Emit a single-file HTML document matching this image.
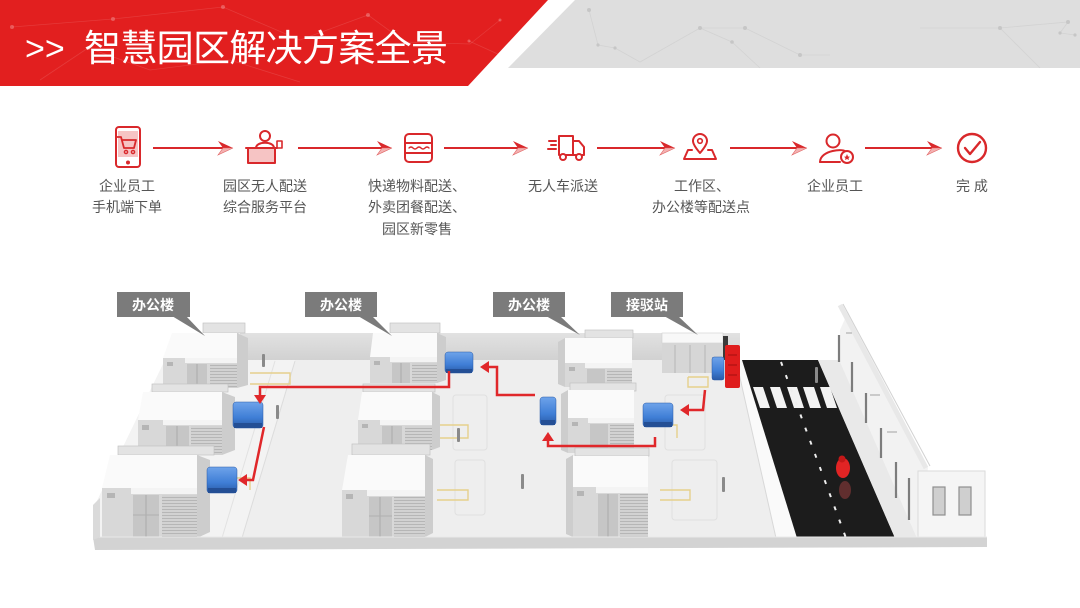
<!DOCTYPE html>
<html><head><meta charset="utf-8">
<style>
html,body{margin:0;padding:0;background:#fff;}
body{width:1080px;height:608px;overflow:hidden;}
svg{display:block;}
text{font-family:"Liberation Sans","Noto Sans CJK SC",sans-serif;}
</style></head>
<body>
<svg width="1080" height="608" viewBox="0 0 1080 608" xmlns="http://www.w3.org/2000/svg">
<defs>
  <pattern id="lv" width="4" height="3" patternUnits="userSpaceOnUse"><rect width="4" height="3" fill="#d2d2d2"/><rect y="2" width="4" height="1" fill="#b6b6b6"/></pattern>
  <linearGradient id="wallg" x1="0" y1="0" x2="0" y2="1"><stop offset="0" stop-color="#e2e2e2"/><stop offset="1" stop-color="#d0d0d0"/></linearGradient>
  <linearGradient id="blu" x1="0" y1="0" x2="0" y2="1"><stop offset="0" stop-color="#6ea3ea"/><stop offset="0.6" stop-color="#3f7ed6"/><stop offset="1" stop-color="#2a5aa6"/></linearGradient>
</defs>

<!-- HEADER -->
<polygon points="0,0 548,0 468,86 0,86" fill="#e21f1f"/>
<polygon points="575,0 1080,0 1080,68 508,68" fill="#dedede"/>
<g stroke="rgba(255,255,255,0.12)" stroke-width="0.8" fill="none">
  <polyline points="12,27 113,19 223,7 300,40 368,15 405,42 470,44 500,20"/>
  <polyline points="40,80 88,48 150,70 230,60 300,82"/>
  <polyline points="469,41 500,55 540,10"/>
</g>
<g fill="rgba(255,255,255,0.25)">
  <circle cx="12" cy="27" r="2"/><circle cx="113" cy="19" r="2"/><circle cx="223" cy="7" r="2"/><circle cx="368" cy="15" r="2"/><circle cx="88" cy="48" r="2"/><circle cx="469" cy="41" r="1.5"/><circle cx="500" cy="20" r="1.5"/>
</g>
<g stroke="rgba(150,150,150,0.15)" stroke-width="0.8" fill="none">
  <polyline points="589,10 598,45 615,48 640,62 700,28 745,28 800,55 830,55"/>
  <polyline points="700,28 732,42 760,68"/>
  <polyline points="920,28 1000,28 1068,22 1060,33 1075,35"/>
  <polyline points="1000,28 1040,68"/>
</g>
<g fill="#c6c6c6">
  <circle cx="589" cy="10" r="2"/><circle cx="598" cy="45" r="1.6"/><circle cx="615" cy="48" r="1.6"/><circle cx="700" cy="28" r="2"/><circle cx="745" cy="28" r="2"/><circle cx="732" cy="42" r="1.8"/><circle cx="800" cy="55" r="2"/><circle cx="1000" cy="28" r="2"/><circle cx="1068" cy="22" r="2"/><circle cx="1060" cy="33" r="1.6"/><circle cx="1075" cy="35" r="1.6"/>
</g>
<text x="25" y="60" font-size="34" fill="#fff">&gt;&gt;</text>
<text x="84" y="61" font-size="37" fill="#fff" textLength="364" lengthAdjust="spacing">智慧园区解决方案全景</text>

<!-- FLOW ARROWS -->
<g>
  <g stroke="#d9282b" stroke-width="2" fill="none">
    <line x1="153" y1="148" x2="224" y2="148"/>
    <line x1="298" y1="148" x2="383" y2="148"/>
    <line x1="444" y1="148" x2="519" y2="148"/>
    <line x1="597" y1="148" x2="666" y2="148"/>
    <line x1="730" y1="148" x2="798" y2="148"/>
    <line x1="865" y1="148" x2="933" y2="148"/>
  </g>
  <g>
    <polygon points="233,148 218,141 223,148" fill="#d9282b"/><polygon points="233,148 223,148 218,155" fill="#f3b0b0" stroke="#e06060" stroke-width="0.6"/>
    <polygon points="392,148 377,141 382,148" fill="#d9282b"/><polygon points="392,148 382,148 377,155" fill="#f3b0b0" stroke="#e06060" stroke-width="0.6"/>
    <polygon points="528,148 513,141 518,148" fill="#d9282b"/><polygon points="528,148 518,148 513,155" fill="#f3b0b0" stroke="#e06060" stroke-width="0.6"/>
    <polygon points="675,148 660,141 665,148" fill="#d9282b"/><polygon points="675,148 665,148 660,155" fill="#f3b0b0" stroke="#e06060" stroke-width="0.6"/>
    <polygon points="807,148 792,141 797,148" fill="#d9282b"/><polygon points="807,148 797,148 792,155" fill="#f3b0b0" stroke="#e06060" stroke-width="0.6"/>
    <polygon points="942,148 927,141 932,148" fill="#d9282b"/><polygon points="942,148 932,148 927,155" fill="#f3b0b0" stroke="#e06060" stroke-width="0.6"/>
  </g>
</g>

<!-- ICONS -->
<g stroke="#d9282b" stroke-width="2" fill="none" stroke-linejoin="round" stroke-linecap="round">
  <rect x="116" y="127" width="24" height="40" rx="3"/>
  <rect x="118" y="131" width="20" height="26" fill="#f6c4c4" stroke="none"/>
  <path d="M117,137 H121 L124,148 H134 L136,140 H122" stroke-width="1.8"/>
  <circle cx="126" cy="152" r="1.6" stroke-width="1.4"/><circle cx="133" cy="152" r="1.6" stroke-width="1.4"/>
  <circle cx="128" cy="162.5" r="1" fill="#d9282b"/>
  <circle cx="265" cy="136" r="5"/>
  <path d="M256,148 C256,141 274,141 274,148"/>
  <rect x="248" y="148" width="27" height="15" fill="#f6c4c4"/>
  <line x1="246" y1="148" x2="277" y2="148"/>
  <rect x="277" y="141" width="5" height="7" stroke-width="1.6"/>
  <rect x="405" y="134" width="27" height="28" rx="4"/>
  <line x1="405" y1="143" x2="432" y2="143"/>
  <line x1="405" y1="153" x2="432" y2="153"/>
  <path d="M409,148 q2,-2 4,0 t4,0 t4,0 t4,0 t4,0" stroke-width="1.4"/>
  <path d="M559,136 H573 V155 H559 Z"/>
  <path d="M573,141 H579 L584,147 V155 H573"/>
  <circle cx="563" cy="157" r="3" fill="#fff"/><circle cx="579" cy="157" r="3" fill="#fff"/>
  <line x1="549" y1="141" x2="556" y2="141"/><line x1="551" y1="145" x2="556" y2="145"/><line x1="548" y1="149" x2="556" y2="149"/>
  <path d="M700,153 C694,146 693,143 693,141 A7,7 0 0 1 707,141 C707,143 706,146 700,153 Z"/>
  <circle cx="700" cy="141" r="2.3" stroke-width="1.6"/>
  <path d="M692,150 H688 L684,159 H716 L712,150 H708"/>
  <circle cx="833" cy="141" r="6.5"/>
  <path d="M820,162 C820,150 845,148 846,152"/>
  <line x1="820" y1="162" x2="840" y2="162"/>
  <circle cx="847" cy="157" r="6" fill="#fff"/>
  <polygon points="847,154 848,156.5 850,156.8 848.5,158 849,160 847,159 845,160 845.5,158 844,156.8 846,156.5" fill="#d9282b" stroke="none"/>
  <circle cx="972" cy="148" r="14" stroke-width="2.4"/>
  <path d="M965,148 L970,154 L980,142" stroke-width="2.4"/>
</g>

<!-- LABELS -->
<g font-size="14" fill="#555" text-anchor="middle">
  <text x="127" y="191">企业员工</text>
  <text x="127" y="212">手机端下单</text>
  <text x="265" y="191">园区无人配送</text>
  <text x="265" y="212">综合服务平台</text>
  <text x="417" y="191">快递物料配送、</text>
  <text x="417" y="212">外卖团餐配送、</text>
  <text x="417" y="234">园区新零售</text>
  <text x="563" y="191">无人车派送</text>
  <text x="702" y="191">工作区、</text>
  <text x="701" y="212">办公楼等配送点</text>
  <text x="835" y="191">企业员工</text>
  <text x="972" y="191">完 成</text>
</g>

<!-- SCENE -->
<rect x="240" y="333" width="500" height="29" fill="url(#wallg)"/>
<polygon points="165,360 738,360 776,538 95,538 95,505" fill="#eeeeee"/>
<polygon points="165,360 295,360 242,538 95,538 95,505" fill="#f3f3f3"/>
<line x1="295" y1="361" x2="242" y2="538" stroke="#dcdcdc" stroke-width="1"/>
<line x1="275" y1="361" x2="222" y2="538" stroke="#e2e2e2" stroke-width="1"/>
<g stroke="#e0e0e0" stroke-width="1" fill="none">
  <rect x="453" y="395" width="34" height="55" rx="3"/>
  <rect x="455" y="460" width="30" height="55" rx="3"/>
  <rect x="665" y="395" width="40" height="55" rx="3"/>
  <rect x="672" y="460" width="45" height="60" rx="3"/>
</g>
<g stroke="#e6d08c" stroke-width="1.4" fill="none">
  <polyline points="250,373 290,373 290,384 250,384"/>
  <polyline points="440,425 468,425 468,438 440,438"/>
  <polyline points="437,490 468,490 468,500 437,500"/>
  <polyline points="688,377 708,377 708,387 688,387 688,377"/>
  <polyline points="655,425 677,425 677,438"/>
  <polyline points="660,490 690,490 690,500 660,500"/>
  <polyline points="235,478 250,478 250,490"/>
</g>
<polygon points="736,360 742,360 797,538 776,538" fill="#fafafa"/>
<line x1="736" y1="360" x2="776" y2="538" stroke="#d8d8d8" stroke-width="1"/>
<polygon points="742,360 818,360 895,538 797,538" fill="#1c1c1c"/>
<g fill="#f2f2f2">
  <polygon points="753,387 763,387 770,408 760,408"/>
  <polygon points="770,387 780,387 787,408 777,408"/>
  <polygon points="787,387 797,387 804,408 794,408"/>
  <polygon points="803,387 814,387 821,408 810,408"/>
  <polygon points="820,387 830,387 837,408 827,408"/>
</g>
<line x1="781" y1="362" x2="846" y2="538" stroke="#eee" stroke-width="2" stroke-dasharray="4 10"/>
<polygon points="818,360 840,360 917,538 895,538" fill="#e9e9e9"/>
<polygon points="840,330 848,312 928,468 917,538 840,362" fill="#f2f2f2"/>
<line x1="840" y1="305" x2="926" y2="468" stroke="#e8e8e8" stroke-width="5"/>
<line x1="843" y1="304" x2="930" y2="466" stroke="#d2d2d2" stroke-width="1"/>
<g stroke="#7d7d7d" stroke-width="2.2">
  <line x1="839" y1="335" x2="839" y2="362"/>
  <line x1="852" y1="362" x2="852" y2="392"/>
  <line x1="866" y1="393" x2="866" y2="423"/>
  <line x1="881" y1="428" x2="881" y2="458"/>
  <line x1="896" y1="462" x2="896" y2="498"/>
  <line x1="909" y1="478" x2="909" y2="520"/>
</g>
<g stroke="#bdbdbd" stroke-width="1.5">
  <line x1="846" y1="333" x2="852" y2="333"/>
  <line x1="870" y1="395" x2="880" y2="395"/>
  <line x1="887" y1="432" x2="897" y2="432"/>
</g>
<rect x="918" y="471" width="67" height="67" fill="#f5f5f5" stroke="#dadada" stroke-width="1"/>
<rect x="933" y="487" width="12" height="28" fill="#cfcfcf" stroke="#8f8f8f" stroke-width="1.2"/>
<rect x="959" y="487" width="12" height="28" fill="#cfcfcf" stroke="#8f8f8f" stroke-width="1.2"/>
<ellipse cx="845" cy="490" rx="6" ry="9" fill="#e05050" opacity="0.35"/>
<ellipse cx="843" cy="468" rx="7" ry="10" fill="#e22424"/>
<circle cx="842" cy="459" r="3.5" fill="#c41818"/>

<rect x="662" y="333" width="61" height="10" fill="#f8f8f8" stroke="#d0d0d0" stroke-width="0.6"/>
<rect x="662" y="343" width="61" height="30" fill="#d6d6d6"/>
<g stroke="#b5b5b5" stroke-width="1"><line x1="675" y1="345" x2="675" y2="373"/><line x1="690" y1="345" x2="690" y2="373"/><line x1="705" y1="345" x2="705" y2="373"/></g>
<rect x="723" y="336" width="5" height="24" fill="#3a3a3a"/>
<rect x="725" y="345" width="15" height="43" fill="#df1d1d" rx="2"/>
<g stroke="#a51010" stroke-width="1"><line x1="728" y1="355" x2="737" y2="355"/><line x1="728" y1="365" x2="737" y2="365"/><line x1="728" y1="375" x2="737" y2="375"/></g>

<g fill="#e3e3e3" stroke="#c2c2c2" stroke-width="0.7">
  <rect x="203" y="323" width="42" height="10"/>
  <rect x="390" y="323" width="50" height="10"/>
  <rect x="585" y="330" width="48" height="8"/>
</g>
<polygon points="237,333 248,338 248,385 237,388" fill="#cdcdcd"/>
<polygon points="172,333 237,333 237,358 163,358" fill="#fafafa"/>
<rect x="163" y="358" width="74" height="30" fill="#d8d8d8"/>
<rect x="185" y="358" width="52" height="5" fill="#f4f4f4"/>
<rect x="187" y="364" width="20" height="24" fill="#c6c6c6"/>
<line x1="197" y1="364" x2="197" y2="388" stroke="#a9a9a9"/>
<rect x="210" y="364" width="27" height="24" fill="url(#lv)"/>
<rect x="167" y="362" width="6" height="4" fill="#b5b5b5"/>
<polygon points="437,333 446,337 446,380 437,383" fill="#cdcdcd"/>
<polygon points="373,333 437,333 437,357 370,357" fill="#fafafa"/>
<rect x="370" y="357" width="67" height="26" fill="#d8d8d8"/>
<rect x="390" y="357" width="47" height="5" fill="#f4f4f4"/>
<rect x="392" y="363" width="18" height="20" fill="#c6c6c6"/>
<line x1="401" y1="363" x2="401" y2="383" stroke="#a9a9a9"/>
<rect x="412" y="363" width="25" height="20" fill="url(#lv)"/>
<rect x="374" y="361" width="6" height="4" fill="#b5b5b5"/>
<polygon points="565,338 558,342 558,384 565,387" fill="#cdcdcd"/>
<rect x="565" y="338" width="67" height="25" fill="#fafafa"/>
<rect x="565" y="363" width="67" height="24" fill="#d8d8d8"/>
<rect x="585" y="363" width="47" height="5" fill="#f4f4f4"/>
<rect x="587" y="369" width="18" height="18" fill="#c6c6c6"/>
<rect x="607" y="369" width="25" height="18" fill="url(#lv)"/>
<rect x="569" y="367" width="6" height="4" fill="#b5b5b5"/>

<g fill="#e3e3e3" stroke="#c2c2c2" stroke-width="0.7">
  <rect x="152" y="384" width="76" height="8"/>
  <rect x="363" y="384" width="72" height="8"/>
  <rect x="570" y="383" width="66" height="8"/>
</g>
<polygon points="222,392 235,397 235,450 222,455" fill="#cdcdcd"/>
<polygon points="143,392 222,392 222,420 138,420" fill="#fafafa"/>
<rect x="138" y="420" width="84" height="35" fill="#d8d8d8"/>
<rect x="163" y="420" width="59" height="5" fill="#f4f4f4"/>
<rect x="166" y="426" width="23" height="29" fill="#c6c6c6"/>
<line x1="177" y1="426" x2="177" y2="455" stroke="#a9a9a9"/>
<rect x="191" y="426" width="31" height="29" fill="url(#lv)"/>
<rect x="142" y="425" width="7" height="5" fill="#b5b5b5"/>
<polygon points="432,392 440,396 440,447 432,450" fill="#cdcdcd"/>
<polygon points="362,392 432,392 432,420 358,420" fill="#fafafa"/>
<rect x="358" y="420" width="74" height="30" fill="#d8d8d8"/>
<rect x="380" y="420" width="52" height="5" fill="#f4f4f4"/>
<rect x="382" y="426" width="20" height="24" fill="#c6c6c6"/>
<line x1="392" y1="426" x2="392" y2="450" stroke="#a9a9a9"/>
<rect x="405" y="426" width="27" height="24" fill="url(#lv)"/>
<rect x="362" y="424" width="6" height="4" fill="#b5b5b5"/>
<polygon points="568,390 561,394 561,450 568,453" fill="#cdcdcd"/>
<rect x="568" y="390" width="66" height="28" fill="#fafafa"/>
<rect x="568" y="418" width="66" height="35" fill="#d8d8d8"/>
<rect x="588" y="418" width="46" height="5" fill="#f4f4f4"/>
<rect x="590" y="424" width="18" height="29" fill="#c6c6c6"/>
<rect x="610" y="424" width="24" height="29" fill="url(#lv)"/>
<rect x="572" y="422" width="6" height="4" fill="#b5b5b5"/>

<g fill="#e3e3e3" stroke="#c2c2c2" stroke-width="0.7">
  <rect x="118" y="446" width="96" height="9"/>
  <rect x="352" y="444" width="78" height="11"/>
  <rect x="575" y="448" width="74" height="8"/>
</g>
<polygon points="197,455 210,460 210,532 197,538" fill="#cdcdcd"/>
<polygon points="110,455 197,455 197,488 102,488" fill="#fafafa"/>
<rect x="102" y="488" width="95" height="50" fill="#d8d8d8"/>
<rect x="131" y="488" width="66" height="6" fill="#f4f4f4"/>
<rect x="133" y="495" width="26" height="43" fill="#c6c6c6"/>
<line x1="146" y1="495" x2="146" y2="538" stroke="#a9a9a9"/>
<line x1="133" y1="515" x2="159" y2="515" stroke="#b0b0b0"/>
<rect x="162" y="495" width="35" height="43" fill="url(#lv)"/>
<rect x="107" y="493" width="8" height="5" fill="#b5b5b5"/>
<polygon points="425,455 433,459 433,533 425,537" fill="#cdcdcd"/>
<polygon points="348,455 425,455 425,490 342,490" fill="#fafafa"/>
<rect x="342" y="490" width="83" height="47" fill="#d8d8d8"/>
<rect x="367" y="490" width="58" height="6" fill="#f4f4f4"/>
<rect x="369" y="497" width="23" height="40" fill="#c6c6c6"/>
<line x1="380" y1="497" x2="380" y2="537" stroke="#a9a9a9"/>
<line x1="369" y1="516" x2="392" y2="516" stroke="#b0b0b0"/>
<rect x="394" y="497" width="31" height="40" fill="url(#lv)"/>
<rect x="346" y="494" width="7" height="5" fill="#b5b5b5"/>
<polygon points="573,455 566,459 566,534 573,537" fill="#cdcdcd"/>
<rect x="573" y="456" width="75" height="31" fill="#fafafa"/>
<rect x="573" y="487" width="75" height="50" fill="#d8d8d8"/>
<rect x="596" y="487" width="52" height="6" fill="#f4f4f4"/>
<rect x="598" y="494" width="20" height="43" fill="#c6c6c6"/>
<line x1="608" y1="494" x2="608" y2="537" stroke="#a9a9a9"/>
<rect x="620" y="494" width="28" height="43" fill="url(#lv)"/>
<rect x="577" y="491" width="7" height="5" fill="#b5b5b5"/>

<polygon points="93,537 987,537 987,547 95,550" fill="#d3d3d3"/>
<line x1="93" y1="537" x2="987" y2="537" stroke="#e9e9e9" stroke-width="1"/>
<polygon points="93,505 100,498 100,537 93,540" fill="#dadada"/>

<g fill="#8a8a8a">
  <rect x="262" y="354" width="3" height="13" rx="1"/>
  <rect x="276" y="405" width="3" height="14" rx="1"/>
  <rect x="457" y="428" width="3" height="14" rx="1"/>
  <rect x="521" y="474" width="3" height="15" rx="1"/>
  <rect x="722" y="477" width="3" height="15" rx="1"/>
  <rect x="815" y="367" width="3" height="16" rx="1"/>
  <rect x="220" y="480" width="3" height="12" rx="1"/>
</g>

<g stroke="#2a5aa6" stroke-width="0.5">
  <rect x="445" y="352" width="28" height="21" rx="3" fill="url(#blu)"/>
  <rect x="233" y="402" width="30" height="26" rx="3" fill="url(#blu)"/>
  <rect x="207" y="467" width="30" height="26" rx="3" fill="url(#blu)"/>
  <rect x="540" y="397" width="16" height="28" rx="3" fill="url(#blu)"/>
  <rect x="643" y="403" width="30" height="24" rx="3" fill="url(#blu)"/>
  <rect x="712" y="357" width="12" height="23" rx="2" fill="url(#blu)"/>
</g>
<g fill="#244f95">
  <rect x="446" y="369" width="26" height="4"/>
  <rect x="234" y="423" width="28" height="5"/>
  <rect x="208" y="488" width="28" height="5"/>
  <rect x="541" y="420" width="14" height="5"/>
  <rect x="644" y="422" width="28" height="5"/>
</g>

<g stroke="#e0272a" stroke-width="2.5" fill="none" stroke-linejoin="miter">
  <path d="M449,371 V387 H260 V396"/>
  <path d="M264,427 L253,480 H246"/>
  <path d="M535,395 H497 V367 H488"/>
  <path d="M655,437 V446 H548 V440"/>
  <path d="M705,390 L703,410 H688"/>
</g>
<g fill="#e0272a">
  <polygon points="254,395 266,395 260,404"/>
  <polygon points="247,474 247,486 238,480"/>
  <polygon points="489,361 489,373 480,367"/>
  <polygon points="542,441 554,441 548,432"/>
  <polygon points="689,404 689,416 680,410"/>
</g>

<g fill="#7b7b7b">
  <rect x="117" y="292" width="73" height="25"/>
  <polygon points="172,316 186,316 205,336"/>
  <rect x="305" y="292" width="72" height="25"/>
  <polygon points="358,316 372,316 392,336"/>
  <rect x="493" y="292" width="72" height="25"/>
  <polygon points="546,316 560,316 580,335"/>
  <rect x="611" y="292" width="72" height="25"/>
  <polygon points="664,316 678,316 698,335"/>
</g>
<g font-size="14" font-weight="bold" fill="#fff" text-anchor="middle">
  <text x="153" y="310">办公楼</text>
  <text x="341" y="310">办公楼</text>
  <text x="529" y="310">办公楼</text>
  <text x="647" y="310">接驳站</text>
</g>
</svg>
</body></html>
